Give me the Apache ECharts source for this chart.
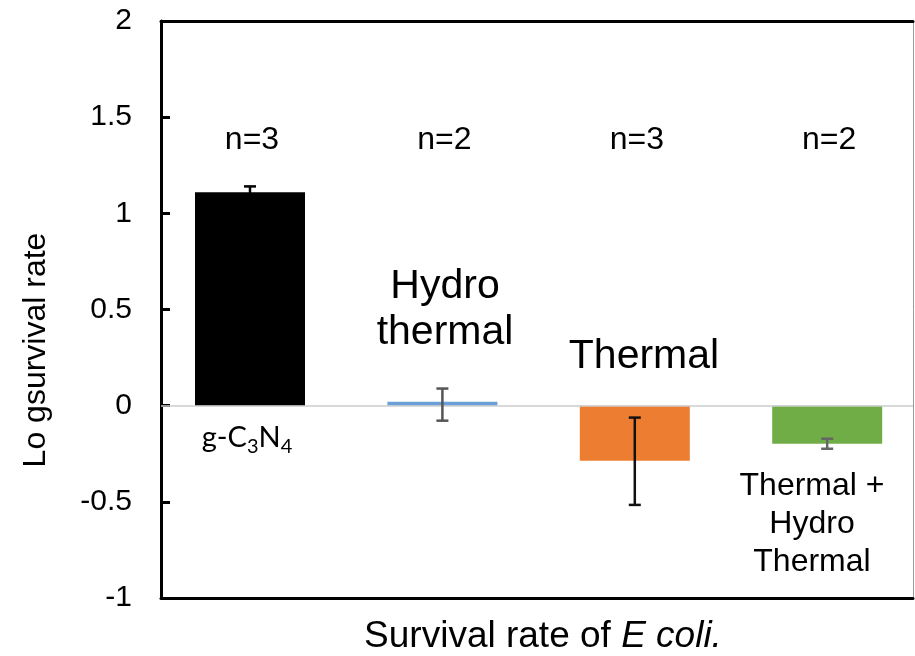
<!DOCTYPE html>
<html>
<head>
<meta charset="utf-8">
<script src="https://cdn.jsdelivr.net/npm/echarts@6/dist/echarts.min.js"></script>
<style>
html,body{margin:0;padding:0;background:#fff;}
#main{width:915px;height:656px;}
</style>
</head>
<body>
<div id="main"></div>
<script>
var categories = ['g-C3N4', 'Hydro thermal', 'Thermal', 'Thermal + Hydro Thermal'];
var means = [1.11, 0.02, -0.287, -0.198];
var errLow = [1.08, -0.078, -0.516, -0.224];
var errHigh = [1.14, 0.089, -0.062, -0.172];
var nCounts = [3, 2, 3, 2];
var barColors = ['#000000', '#6A9FD8', '#ED7D31', '#70AD47'];
var errColors = ['#000000', '#555555', '#111111', '#666666'];
var yTicks = { min: -1, max: 2, step: 0.5 };

var FONT = 'Liberation Sans, Arial, sans-serif';
var myChart = echarts.init(document.getElementById('main'));

var barData = means.map(function (v, i) { return [i, v]; });
var errData = means.map(function (v, i) { return [i, errLow[i], errHigh[i]]; });

option = {
    backgroundColor: '#fff',
    animation: false,
    grid: { left: 161, right: 2, top: 21, bottom: 58 },
    xAxis: [
        {
            type: 'value', min: -0.4626, max: 3.446, position: 'bottom',
            axisLine: { onZero: false, lineStyle: { color: '#000', width: 3 } },
            axisTick: { show: false }, axisLabel: { show: false }, splitLine: { show: false }
        },
        {
            type: 'value', min: -0.4626, max: 3.446, position: 'top',
            axisLine: { show: true, onZero: false, lineStyle: { color: '#000', width: 3 } },
            axisTick: { show: false }, axisLabel: { show: false }, splitLine: { show: false }
        }
    ],
    yAxis: [
        {
            type: 'value', min: yTicks.min, max: yTicks.max, interval: yTicks.step,
            axisLine: { show: true, onZero: false, lineStyle: { color: '#000', width: 3 } },
            axisTick: { show: true, inside: true, length: 9, lineStyle: { color: '#000', width: 3 } },
            axisLabel: { color: '#000', fontSize: 30, fontFamily: FONT, margin: 29 },
            splitLine: { show: false }
        },
        {
            type: 'value', min: yTicks.min, max: yTicks.max, position: 'right',
            axisLine: { show: true, onZero: false, lineStyle: { color: '#999', width: 1 } },
            axisTick: { show: false }, axisLabel: { show: false }, splitLine: { show: false }
        }
    ],
    series: [
        {
            type: 'bar',
            barWidth: 110,
            data: barData,
            itemStyle: {
                color: function (p) { return barColors[p.dataIndex]; }
            },
            markLine: {
                silent: true,
                symbol: 'none',
                label: { show: false },
                lineStyle: { color: '#cccccc', width: 1.5, type: 'solid' },
                data: [{ yAxis: 0 }]
            }
        },
        {
            type: 'custom',
            data: errData,
            z: 5,
            renderItem: function (params, api) {
                var x = api.value(0);
                var lo = api.coord([x, api.value(1)]);
                var hi = api.coord([x, api.value(2)]);
                var w = 6;
                var c = errColors[params.dataIndex];
                var st = { stroke: c, lineWidth: 2.5 };
                return {
                    type: 'group',
                    children: [
                        { type: 'line', shape: { x1: lo[0], y1: lo[1], x2: hi[0], y2: hi[1] }, style: st },
                        { type: 'line', shape: { x1: hi[0] - w, y1: hi[1], x2: hi[0] + w, y2: hi[1] }, style: st },
                        { type: 'line', shape: { x1: lo[0] - w, y1: lo[1], x2: lo[0] + w, y2: lo[1] }, style: st }
                    ]
                };
            }
        }
    ]
};
myChart.setOption(option);

// n= labels above each group
var nLabels = nCounts.map(function (n, i) {
    var px = myChart.convertToPixel({ xAxisIndex: 0 }, i);
    return {
        type: 'text', x: px + 2, y: 140,
        style: { text: 'n=' + n, font: '32px ' + FONT, fill: '#000', textAlign: 'center', textVerticalAlign: 'middle' }
    };
});

myChart.setOption({
    graphic: nLabels.concat([
        {
            type: 'text', x: 36, y: 350, rotation: Math.PI / 2,
            style: { text: 'Lo gsurvival rate', font: '32px ' + FONT, fill: '#000', textAlign: 'center', textVerticalAlign: 'middle' }
        },
        {
            type: 'text', x: 543, y: 637,
            style: {
                text: '{n|Survival rate of }{i|E coli.}',
                textAlign: 'center', textVerticalAlign: 'middle',
                rich: {
                    n: { fontSize: 37, fontFamily: FONT, fill: '#000' },
                    i: { fontSize: 37, fontFamily: FONT, fontStyle: 'italic', fill: '#000' }
                }
            }
        },
        {
            type: 'text', x: 247, y: 440,
            style: {
                text: '{m|g-C}{s|3}{m|N}{s|4}',
                textAlign: 'center', textVerticalAlign: 'middle',
                rich: {
                    m: { fontSize: 29, fontFamily: 'Lato, sans-serif', lineHeight: 34, verticalAlign: 'top', fill: '#000' },
                    s: { fontSize: 20, fontFamily: 'Lato, sans-serif', lineHeight: 34, verticalAlign: 'top', padding: [14, 0, 0, 0], fill: '#000' }
                }
            }
        },
        {
            type: 'text', x: 445, y: 310,
            style: { text: 'Hydro\nthermal', font: '41px ' + FONT, lineHeight: 46, fill: '#000', textAlign: 'center', textVerticalAlign: 'middle' }
        },
        {
            type: 'text', x: 644, y: 357,
            style: { text: 'Thermal', font: '41px ' + FONT, fill: '#000', textAlign: 'center', textVerticalAlign: 'middle' }
        },
        {
            type: 'text', x: 812, y: 524,
            style: { text: 'Thermal +\nHydro\nThermal', font: '32px ' + FONT, lineHeight: 38, fill: '#000', textAlign: 'center', textVerticalAlign: 'middle' }
        }
    ])
});
</script>
</body>
</html>
